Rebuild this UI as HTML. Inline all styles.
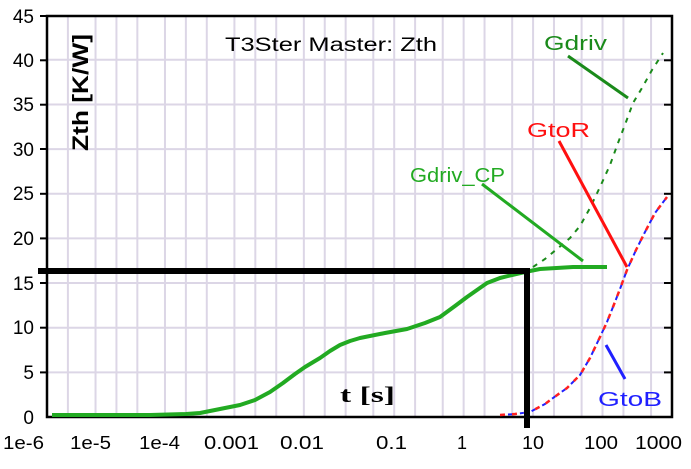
<!DOCTYPE html>
<html><head><meta charset="utf-8"><style>
html,body{margin:0;padding:0;background:#fff;}
svg{display:block;font-family:"Liberation Sans",sans-serif;}
</style></head><body>
<svg width="691" height="469" viewBox="0 0 691 469" xmlns="http://www.w3.org/2000/svg">
<rect width="691" height="469" fill="#fff"/>
<g id="grid" stroke="#dcd6e6" stroke-width="2">
</g>
<script>
(function(){
var g=document.getElementById('grid'),ns='http://www.w3.org/2000/svg';
var X0=47,D=69.44;
function ln(x1,y1,x2,y2){var l=document.createElementNS(ns,'line');l.setAttribute('x1',x1);l.setAttribute('y1',y1);l.setAttribute('x2',x2);l.setAttribute('y2',y2);g.appendChild(l);}
for(var d=0;d<9;d++){[2,5,10].forEach(function(m){var x=X0+(d+Math.log10(m))*D;ln(x,16,x,417);});}
for(var v=5;v<45;v+=5){var y=417-v*8.93;ln(47,y,672,y);}
})();
</script>
<rect x="47" y="16" width="625" height="401" fill="none" stroke="#000" stroke-width="2.5"/>
<g stroke="#000" stroke-width="2">
<line x1="40" y1="16" x2="47" y2="16"/><line x1="40" y1="60.3" x2="47" y2="60.3"/><line x1="40" y1="104.7" x2="47" y2="104.7"/><line x1="40" y1="149" x2="47" y2="149"/><line x1="40" y1="193.8" x2="47" y2="193.8"/><line x1="40" y1="238.4" x2="47" y2="238.4"/><line x1="40" y1="283" x2="47" y2="283"/><line x1="40" y1="327.7" x2="47" y2="327.7"/><line x1="40" y1="372.4" x2="47" y2="372.4"/>
<line x1="664" y1="60.3" x2="672" y2="60.3"/><line x1="664" y1="104.7" x2="672" y2="104.7"/><line x1="664" y1="149" x2="672" y2="149"/><line x1="664" y1="193.8" x2="672" y2="193.8"/><line x1="664" y1="238.4" x2="672" y2="238.4"/><line x1="664" y1="283" x2="672" y2="283"/><line x1="664" y1="327.7" x2="672" y2="327.7"/><line x1="664" y1="372.4" x2="672" y2="372.4"/>
</g>
<g font-size="19" fill="#000" text-anchor="end">
<text x="34" y="23">45</text><text x="34" y="67">40</text><text x="34" y="111">35</text><text x="34" y="156">30</text><text x="34" y="200">25</text><text x="34" y="245">20</text><text x="34" y="290">15</text><text x="34" y="334">10</text><text x="34" y="379">5</text><text x="34" y="424">0</text>
</g>
<g font-size="18" fill="#000">
<text x="3" y="449" textLength="41" lengthAdjust="spacingAndGlyphs">1e-6</text>
<text x="70" y="449" textLength="41" lengthAdjust="spacingAndGlyphs">1e-5</text>
<text x="139" y="449" textLength="41" lengthAdjust="spacingAndGlyphs">1e-4</text>
<text x="204" y="449" textLength="55" lengthAdjust="spacingAndGlyphs">0.001</text>
<text x="280" y="449" textLength="44" lengthAdjust="spacingAndGlyphs">0.01</text>
<text x="376" y="449" textLength="31" lengthAdjust="spacingAndGlyphs">0.1</text>
<text x="457" y="449">1</text>
<text x="522" y="449" textLength="22" lengthAdjust="spacingAndGlyphs">10</text>
<text x="584" y="449" textLength="34" lengthAdjust="spacingAndGlyphs">100</text>
<text x="635" y="449" textLength="47" lengthAdjust="spacingAndGlyphs">1000</text>
</g>
<text x="225" y="51" font-size="19" fill="#000" textLength="212" lengthAdjust="spacingAndGlyphs">T3Ster Master: Zth</text>
<text transform="translate(88,151) rotate(-90)" font-size="22" font-weight="bold" fill="#000" textLength="117" lengthAdjust="spacingAndGlyphs">Zth  [K/W]</text>
<text x="340" y="402" font-size="22" font-weight="bold" fill="#000" font-family="Liberation Serif,serif" textLength="55" lengthAdjust="spacingAndGlyphs">t [s]</text>
<polyline fill="none" stroke="#1a8a1a" stroke-width="2" stroke-dasharray="5,6" points="533,267 545,259 557,249 570,238 580,226 590,208 600,187 610,165 618,143 626,122 633,103 642,88 652,70 663,53"/>
<polyline fill="none" stroke="#ff2020" stroke-width="2.5" stroke-dasharray="5,7" points="500,415 515,414 530,412 545,404 553,398 567,388 580,375 590,358 600,337 607,322 613,307 620,289 627,270 636,250 645,232 655,213 667,197"/>
<polyline fill="none" stroke="#2020ff" stroke-width="2" stroke-dasharray="4,8" stroke-dashoffset="4" points="500,415 515,414 530,412 545,404 553,398 567,388 580,375 590,358 600,337 607,322 613,307 620,289 627,270 636,250 645,232 655,213 667,197"/>
<polyline fill="none" stroke="#22aa22" stroke-width="4" stroke-linejoin="round" points="52,415 150,415 186,414 200,413 215,410 240,405 255,400 270,392 283,383 295,374 305,367 320,358 330,351 340,345 350,341 360,338 385,333 407,329 425,323 440,317 455,306 467,297 477,290 487,283 500,278 512,275 525,272 540,269 573,267 607,267"/>
<line x1="38" y1="271" x2="530" y2="271" stroke="#000" stroke-width="6"/>
<line x1="527" y1="268" x2="527" y2="428" stroke="#000" stroke-width="6"/>
<text x="544" y="50" font-size="20" fill="#1a8a1a" textLength="63" lengthAdjust="spacingAndGlyphs">Gdriv</text>
<line x1="568" y1="56" x2="628" y2="98" stroke="#1a8a1a" stroke-width="3"/>
<text x="527" y="137" font-size="20" fill="#ff1010" textLength="63" lengthAdjust="spacingAndGlyphs">GtoR</text>
<line x1="559" y1="141" x2="627" y2="267" stroke="#ff1010" stroke-width="3"/>
<text x="410" y="182" font-size="20" fill="#22aa22" textLength="95" lengthAdjust="spacingAndGlyphs">Gdriv_CP</text>
<line x1="482" y1="184" x2="583" y2="261" stroke="#22aa22" stroke-width="3"/>
<text x="598" y="406" font-size="20" fill="#2020ff" textLength="64" lengthAdjust="spacingAndGlyphs">GtoB</text>
<line x1="606" y1="345" x2="625" y2="379" stroke="#2020ff" stroke-width="3"/>
</svg>
</body></html>
